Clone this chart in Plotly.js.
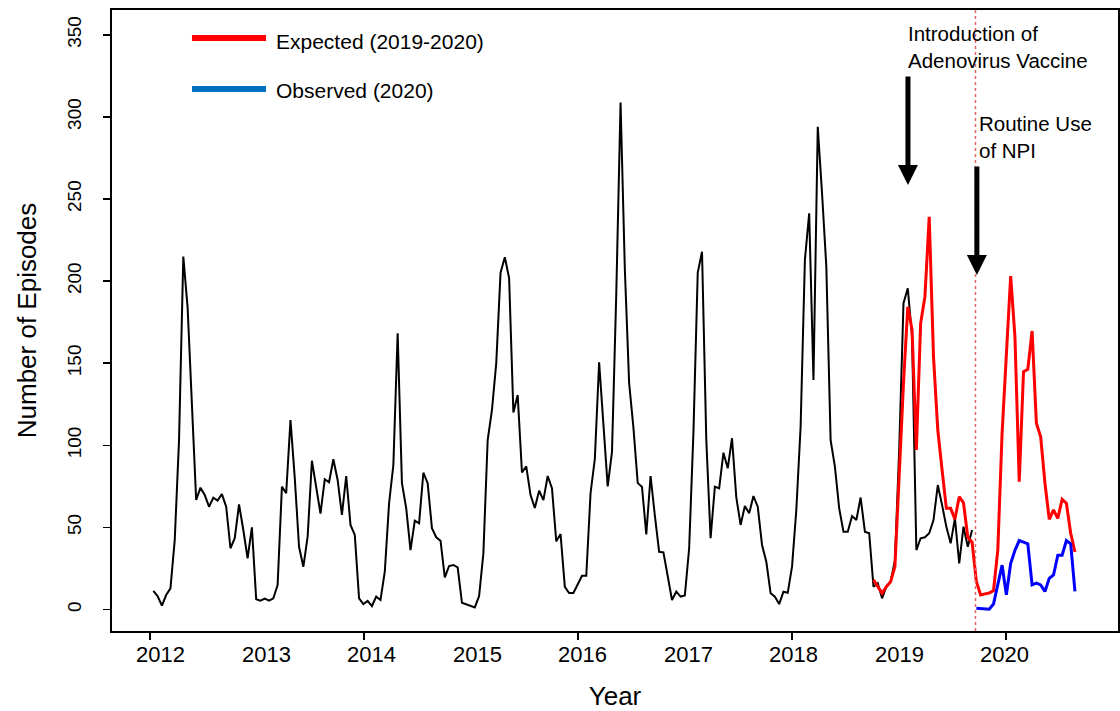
<!DOCTYPE html>
<html>
<head>
<meta charset="utf-8">
<script src="https://cdn.plot.ly/plotly-3.0.1.min.js"></script>
<style>
  html, body { margin: 0; padding: 0; background: #ffffff; }
  #chart { width: 1120px; height: 711px; }
</style>
</head>
<body>
<div id="chart"></div>
<script>
// ---- Data ----
// Time grid: semi-monthly periods, first period at the start of 2012
const FIRST_TIME = 2012.031;
const PERIODS_PER_YEAR = 24.96;

// Historical episodes 2012-2019 (black)
const historicalValues = [
  11.3, 8.2, 2.3, 8.8, 12.9, 42.3, 103, 214.9, 184, 123.5, 66.7, 74.2,
  69.7, 62.6, 68.1, 66.3, 70.3, 62.6, 37.3, 43.4, 64, 48.4, 31.2, 50,
  6.2, 5.4, 6.6, 5.4, 6.8, 14.9, 74.8, 70.8, 115.4, 80, 38.2, 26,
  44.3, 90.6, 74.8, 58.4, 79.3, 77.5, 91.5, 78.9, 57.6, 81.3, 51.5, 45.4,
  6.8, 3.3, 5.2, 2.1, 7.8, 5.8, 23, 64.7, 88, 168.2, 76.9, 61.6,
  36.2, 54.1, 52.5, 83.3, 76.9, 49.5, 44, 41.9, 19.6, 26.5, 27.1, 25.7,
  4.1, 3.2, 2.1, 1.3, 8.2, 34.2, 103.2, 121.5, 150, 205.1, 214.5, 201.8,
  120, 130.6, 83.4, 87.2, 69.7, 61.8, 72.3, 66.6, 81.3, 73.9, 41.5, 46,
  13.8, 10, 10, 15.2, 20.5, 20.5, 70.8, 91.8, 150.5, 112.7, 75, 96,
  192.4, 308.8, 207.1, 137.9, 110.7, 77.1, 74.6, 45.7, 81.3, 57.2, 35.1, 34.8,
  20.5, 5.8, 11, 7.9, 8.5, 37.3, 108, 205, 217.9, 103.2, 43.4, 74.8,
  73.8, 95.5, 86, 104.3, 68.3, 51.5, 63, 58.6, 69.1, 62.6, 39.3, 29.1,
  9.9, 7.8, 3.3, 10.8, 10.2, 26.1, 60.6, 111.3, 212.8, 241.3, 139.8, 294,
  253.5, 208.8, 103.2, 87, 61.6, 47.4, 47.4, 56.9, 54.5, 68.2, 47.4, 46.4,
  13.9, 16, 6.8, 13.9, 16.9, 30.1, 97.1, 186.5, 195.6, 166.1, 36.2, 43.4,
  44, 46.4, 54.5, 75.8, 63.6, 50.4, 40.3, 55.5, 28.1, 50.4, 38.2, 48.4
];
const HISTORICAL_START = 0;

// Expected (2019-2020), red
const expectedValues = [
  18, 13.9, 9.9, 13.9, 16.9, 26.1, 87, 137.8, 184.4, 170.2, 97.1, 174.3,
  190.5, 239.2, 154, 109.3, 85, 61.6, 61.6, 55, 68.7, 65, 44, 41,
  17, 8.8, 9.5, 10, 11.5, 36.2, 107.3, 158, 203.1, 166.1, 77.8, 144.8,
  146.3, 169.6, 113.4, 105.2, 76.9, 54.9, 60.6, 55.5, 67.1, 64.7, 46.4, 35
];
const EXPECTED_START = 168;

// Observed (2020), blue
const observedValues = [
  0.7, 0.5, 0.3, 0.2, 3.3, 15, 27, 9, 28, 36, 42, 41,
  40, 15, 16, 15, 11, 19, 21, 33, 33, 42, 40, 11
];
const OBSERVED_START = 192;

const yearLabels = ['2012', '2013', '2014', '2015', '2016', '2017', '2018', '2019', '2020'];
const yearTickValues = [2012, 2014, 2016, 2018, 2020];
const yTickValues = [0, 50, 100, 150, 200, 250, 300, 350];

const VACCINE_TIME = 2019.084;
const NPI_TIME = 2019.715;

// ---- Build ----
function timesFor(start, n) {
  const t = [];
  for (let i = 0; i < n; i++) t.push(FIRST_TIME + (start + i) / PERIODS_PER_YEAR);
  return t;
}

const FONT = 'Arial, "Liberation Sans", sans-serif';

const traces = [
  {
    x: timesFor(HISTORICAL_START, historicalValues.length), y: historicalValues,
    type: 'scatter', mode: 'lines', name: 'Episodes',
    line: { color: '#000000', width: 2 }, showlegend: false
  },
  {
    x: timesFor(EXPECTED_START, expectedValues.length), y: expectedValues,
    type: 'scatter', mode: 'lines', name: 'Expected (2019-2020)',
    line: { color: '#FF0000', width: 3 }, showlegend: false
  },
  {
    x: timesFor(OBSERVED_START, observedValues.length), y: observedValues,
    type: 'scatter', mode: 'lines', name: 'Observed (2020)',
    line: { color: '#0000FF', width: 3 }, showlegend: false
  }
];

const annotations = [];
yearLabels.forEach((lab, k) => {
  annotations.push({
    x: Number(lab), xref: 'x', y: -0.0386, yref: 'paper',
    text: lab, showarrow: false, xanchor: 'center', yanchor: 'middle',
    xshift: 11 - 1.5 * k,
    font: { family: FONT, size: 22, color: '#000' }
  });
});

// Legend text
annotations.push({
  x: 0.161, xref: 'paper', y: 0.950, yref: 'paper', text: 'Expected (2019-2020)',
  showarrow: false, xanchor: 'left', yanchor: 'middle',
  font: { family: FONT, size: 21, color: '#000' }
});
annotations.push({
  x: 0.161, xref: 'paper', y: 0.8696, yref: 'paper', text: 'Observed (2020)',
  showarrow: false, xanchor: 'left', yanchor: 'middle',
  font: { family: FONT, size: 21, color: '#000' }
});

// Event texts
annotations.push({
  x: 2019.065, xref: 'x', y: 342.3, yref: 'y',
  text: 'Introduction of<br>Adenovirus Vaccine', align: 'left',
  showarrow: false, xanchor: 'left', yanchor: 'middle',
  font: { family: FONT, size: 20.5, color: '#000' }
});
annotations.push({
  x: 2019.725, xref: 'x', y: 287.5, yref: 'y',
  text: 'Routine Use<br>of NPI', align: 'left',
  showarrow: false, xanchor: 'left', yanchor: 'middle',
  font: { family: FONT, size: 20.5, color: '#000' }
});

// Arrows
annotations.push({
  x: VACCINE_TIME, y: 258.5, xref: 'x', yref: 'y',
  ax: VACCINE_TIME, ay: 325.5, axref: 'x', ayref: 'y',
  text: '', showarrow: true, arrowhead: 2, arrowsize: 0.8, arrowwidth: 5,
  arrowcolor: '#000', standoff: 0, startstandoff: 0
});
annotations.push({
  x: NPI_TIME + 0.013, y: 203.7, xref: 'x', yref: 'y',
  ax: NPI_TIME + 0.013, ay: 270.7, axref: 'x', ayref: 'y',
  text: '', showarrow: true, arrowhead: 2, arrowsize: 0.8, arrowwidth: 5,
  arrowcolor: '#000', standoff: 0, startstandoff: 0
});

const shapes = [
  // NPI dotted line
  { type: 'line', xref: 'x', yref: 'paper', x0: NPI_TIME, x1: NPI_TIME, y0: 0, y1: 1,
    line: { color: '#E06666', width: 1.5, dash: 'dot' } },
  // legend keys
  { type: 'line', xref: 'paper', yref: 'paper', x0: 0.0795, x1: 0.1531, y0: 0.9549, y1: 0.9549,
    line: { color: '#FF0000', width: 6 } },
  { type: 'line', xref: 'paper', yref: 'paper', x0: 0.0795, x1: 0.1531, y0: 0.8728, y1: 0.8728,
    line: { color: '#0070C0', width: 6 } }
];

const layout = {
  width: 1120, height: 711,
  margin: { l: 112, r: 2, t: 10, b: 80, pad: 0 },
  paper_bgcolor: '#ffffff', plot_bgcolor: '#ffffff',
  font: { family: FONT, color: '#000' },
  showlegend: false,
  xaxis: {
    range: [2011.645, 2021.047], type: 'linear',
    tickvals: yearTickValues, showticklabels: false,
    ticks: 'outside', ticklen: 7, tickwidth: 1.5, tickcolor: '#000',
    showgrid: false, zeroline: false,
    showline: true, linecolor: '#000', linewidth: 2, mirror: true,
    title: { text: 'Year', font: { family: FONT, size: 26, color: '#000' }, standoff: 56 }
  },
  yaxis: {
    range: [-13.1, 365.1],
    tickvals: yTickValues, ticktext: yTickValues.map(String),
    tickangle: -90, ticklabelstandoff: 14,
    tickfont: { family: FONT, size: 19, color: '#000' },
    ticks: 'outside', ticklen: 7, tickwidth: 1.5, tickcolor: '#000',
    showgrid: false, zeroline: false,
    showline: true, linecolor: '#000', linewidth: 2, mirror: true,
    title: { text: 'Number of Episodes', font: { family: FONT, size: 26, color: '#000' }, standoff: 20 }
  },
  annotations: annotations,
  shapes: shapes
};

Plotly.newPlot('chart', traces, layout, { displayModeBar: false, staticPlot: true });
</script>
</body>
</html>
